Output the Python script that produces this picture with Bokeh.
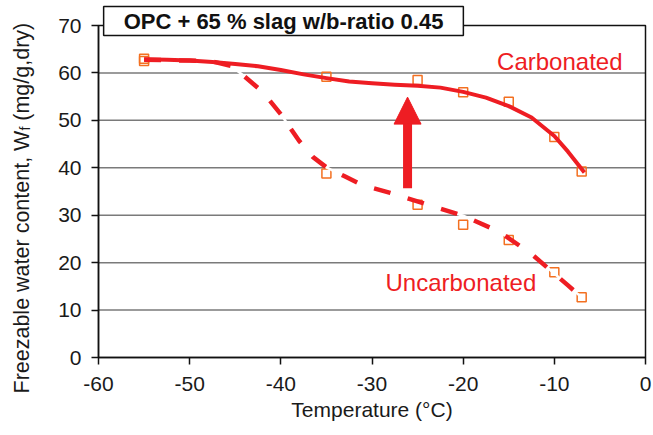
import math
from bokeh.plotting import figure
from bokeh.models import Label, Arrow, NormalHead, FixedTicker, Range1d
from bokeh.embed import file_html
from bokeh.resources import INLINE

# ---- data ----
temps = [-55, -35, -25, -20, -15, -10, -7]
carbonated = [63.0, 59.2, 58.5, 55.9, 53.9, 46.5, 39.2]
uncarbonated = [62.5, 38.8, 32.2, 28.0, 24.8, 18.0, 12.7]

# hand-drawn trend curves
carb_curve_t = [-55, -52.5, -50, -47.5, -45, -42.5, -40, -37.5, -35, -32.5, -30,
                -27.5, -25, -22.5, -20, -17.5, -15, -12.5, -10, -8.5, -6.7]
carb_curve_w = [62.9, 62.8, 62.6, 62.3, 61.9, 61.4, 60.6, 59.7, 58.9, 58.2, 57.8,
                57.5, 57.3, 56.9, 56.0, 54.8, 53.0, 50.6, 46.7, 43.4, 39.0]
uncarb_curve_t = [-55, -52.5, -50, -47.5, -45.5, -44, -42, -40, -38, -36.5, -35,
                  -33, -31, -28, -24, -20, -16, -12.5, -10, -8.5, -7.2]
uncarb_curve_w = [62.8, 62.7, 62.6, 62.4, 61.5, 59.3, 56.0, 51.3, 45.7, 42.3, 40.1,
                  38.2, 36.3, 34.7, 32.3, 29.9, 26.5, 21.8, 17.7, 15.2, 13.0]

arrow_t = -26.1
arrow_from = 35.7
arrow_to = 54.9

x_min, x_max = -60, 0
y_min, y_max = 0, 70
x_ticks = [-60, -50, -40, -30, -20, -10, 0]
y_ticks = [0, 10, 20, 30, 40, 50, 60, 70]

title_text = "OPC + 65 % slag w/b-ratio 0.45"
x_label = "Temperature (°C)"
y_label_head = "Freezable water content, W"
y_label_sub = "f"
y_label_tail = " (mg/g,dry)"

RED = "#EE1D23"
ORANGE = "#F37021"
FONT = "Liberation Sans"
INK = "#1a1a1a"

# ---- layout constants (canvas px of the axes box) ----
W, H = 653, 435
BOX_L, BOX_R, BOX_T, BOX_B = 98, 645, 25, 357


def wx(px):  # canvas px -> data x
    return x_min + (px - BOX_L) * (x_max - x_min) / (BOX_R - BOX_L)


def wy(py):  # canvas px -> data y
    return y_max - (py - BOX_T) * (y_max - y_min) / (BOX_B - BOX_T)


# the frame covers the whole canvas so that no annotation is clipped;
# the axes are pinned at the data box edges
p = figure(width=W, height=H, x_range=Range1d(wx(0), wx(W)), y_range=Range1d(wy(H), wy(0)),
           output_backend="svg", toolbar_location=None,
           min_border_left=0, min_border_right=0, min_border_top=0, min_border_bottom=0)
p.background_fill_color = "white"
p.border_fill_color = "white"
p.outline_line_color = None
p.xgrid.visible = False
p.ygrid.visible = False

for ax in (p.xaxis[0], p.yaxis[0]):
    ax.major_label_text_font = FONT
    ax.major_label_text_font_size = "21px"
    ax.major_label_text_color = INK
    ax.axis_line_color = "#111111"
    ax.axis_line_width = 1.5
    ax.major_tick_line_color = "#111111"
    ax.major_tick_line_width = 1.5
    ax.major_tick_out = 7
    ax.major_tick_in = 0
    ax.minor_tick_line_color = None

p.xaxis.fixed_location = y_min
p.xaxis.bounds = (x_min, x_max)
p.yaxis.fixed_location = x_min
p.yaxis.bounds = (y_min, y_max)
p.xaxis.ticker = FixedTicker(ticks=x_ticks)
p.xaxis.major_label_overrides = {t: str(t) for t in x_ticks}
p.yaxis.ticker = FixedTicker(ticks=y_ticks)
p.yaxis.major_label_overrides = {t: str(t) for t in y_ticks}
p.xaxis.major_label_standoff = 12
p.yaxis.major_label_standoff = 10
p.xaxis.axis_label = x_label
p.xaxis.axis_label_text_font = FONT
p.xaxis.axis_label_text_font_size = "21px"
p.xaxis.axis_label_text_font_style = "normal"
p.xaxis.axis_label_text_color = INK
p.xaxis.axis_label_standoff = 4

# horizontal grid lines at the inner y ticks, and the box outline
grid_y = y_ticks[1:-1]
p.segment(x0=[x_min] * len(grid_y), x1=[x_max] * len(grid_y), y0=grid_y, y1=grid_y,
          line_color="#7a7a7a", line_width=1.5)
p.quad(left=[x_min], right=[x_max], bottom=[y_min], top=[y_max], fill_color=None,
       line_color="#111111", line_width=1.5)

# markers
p.scatter(temps, carbonated, marker="square", size=9, fill_color=None,
          line_color=ORANGE, line_width=1.5)
p.scatter(temps, uncarbonated, marker="square", size=9, fill_color=None,
          line_color=ORANGE, line_width=1.5)

# trend curves
p.line(uncarb_curve_t, uncarb_curve_w, line_color="white", line_width=2.5)
p.line(uncarb_curve_t, uncarb_curve_w, line_color=RED, line_width=4.5,
       line_dash="17 18", line_cap="butt")
p.line(carb_curve_t, carb_curve_w, line_color=RED, line_width=4, line_join="round")

# arrow
p.add_layout(Arrow(end=NormalHead(size=27, fill_color=RED, line_color=RED, line_width=1),
                   x_start=arrow_t, y_start=arrow_from, x_end=arrow_t, y_end=arrow_to,
                   line_color=RED, line_width=9))

# series labels
p.add_layout(Label(x=wx(622), y=wy(60.5), text="Carbonated", text_align="right",
                   text_baseline="alphabetic", text_font=FONT, text_font_size="24px",
                   text_color=RED))
p.add_layout(Label(x=wx(385), y=wy(282), text="Uncarbonated", text_align="left",
                   text_baseline="alphabetic", text_font=FONT, text_font_size="24px",
                   text_color=RED))

# title box (straddles the top of the axes box)
p.add_layout(Label(x=wx(283), y=wy(20.5), text=title_text, text_align="center",
                   text_baseline="middle", text_font=FONT, text_font_size="22px",
                   text_font_style="bold", text_color="#111111",
                   background_fill_color="white", border_line_color="#111111",
                   border_line_width=1.5, padding=(20, 2)))

# rotated y-axis label with subscript f
main_size, sub_size = 21.5, 14
y_start_px = 393
base_px = 21
head_w = 12.227 * main_size        # advance of the head text (Arial metrics)
sub_w = 0.278 * sub_size
lab = dict(angle=math.pi / 2, text_align="left", text_baseline="alphabetic",
           text_font=FONT, text_color=INK)
p.add_layout(Label(x=wx(base_px), y=wy(y_start_px), text=y_label_head,
                   text_font_size=f"{main_size}px", **lab))
sub_px = y_start_px - head_w
p.add_layout(Label(x=wx(base_px + 3.5), y=wy(sub_px), text=y_label_sub,
                   text_font_size=f"{sub_size}px", **lab))
tail_px = sub_px - sub_w - 0.278 * main_size
p.add_layout(Label(x=wx(base_px), y=wy(tail_px), text=y_label_tail.strip(),
                   text_font_size=f"{main_size}px", **lab))

open("out.html", "w").write(file_html(p, INLINE))
